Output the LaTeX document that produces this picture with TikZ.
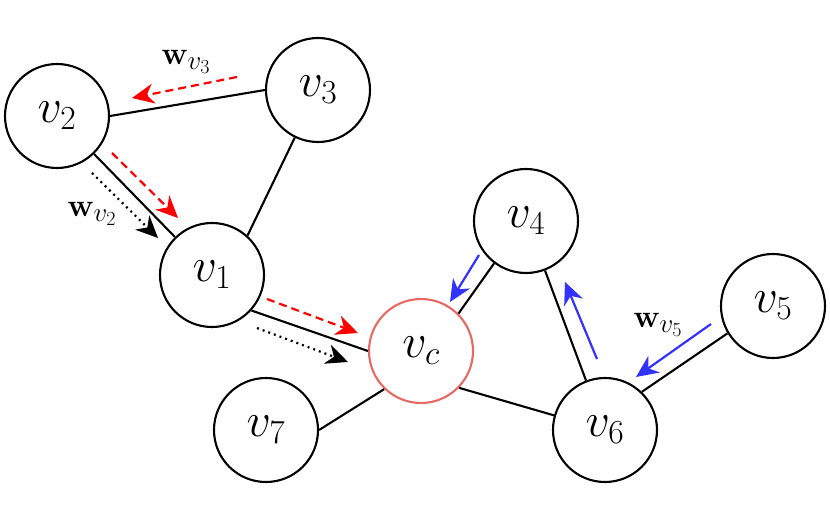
\RequirePackage{fix-cm}
\documentclass[tikz,border=0pt]{standalone}
\usetikzlibrary{arrows.meta}
\definecolor{cred}{RGB}{232,104,98}
\definecolor{cblue}{RGB}{50,50,255}
\DeclareMathSizes{32}{32}{27}{20}
\begin{document}
\begin{tikzpicture}[x=1pt,y=-1pt,
  vtx/.style={circle,draw=black,line width=2.1pt,minimum size=104pt,inner sep=0pt,font=\fontsize{48}{54}\selectfont},
  cvtx/.style={vtx,draw=cred},
  edge/.style={line width=2.1pt},
  tip/.style={-{Stealth[length=22pt,width=20pt,inset=7pt]}},
  redarr/.style={tip,red,line width=2.2pt,dash pattern=on 8pt off 5pt},
  blkarr/.style={tip,black,line width=2.2pt,dash pattern=on 2pt off 4pt},
  bluarr/.style={tip,cblue,line width=2.2pt},
  lbl/.style={font=\fontsize{32}{36}\selectfont}]
\useasboundingbox (0,0) rectangle (830,508);
\node[vtx] (v2) at (57,116) {$v_2$};
\node[vtx] (v3) at (318,90) {$v_3$};
\node[vtx] (v1) at (212,275) {$v_1$};
\node[vtx] (v4) at (526,221) {$v_4$};
\node[vtx] (v5) at (773,306) {$v_5$};
\node[cvtx] (vc) at (421,351) {$v_c$};
\node[vtx] (v7) at (266,430) {$v_7$};
\node[vtx] (v6) at (605,430) {$v_6$};
\draw[edge] (v2.0) -- (v3.180);
\draw[edge] (v3.-116) -- (v1.48);
\draw[edge] (v2) -- (v1);
\draw[edge] (v1.-42) -- (vc.180);
\draw[edge] (vc.45) -- (v4.-127);
\draw[edge] (vc.-134) -- (v7.0);
\draw[edge] (vc.-44) -- (v6.164);
\draw[edge] (v4.-69) -- (v6.111);
\draw[edge] (v6.46) -- (v5.-149);
\coordinate (a1s) at (237,77); \coordinate (a1e) at (132,98);
\coordinate (a2s) at (112,153); \coordinate (a2e) at (178,218);
\coordinate (a3s) at (92,173); \coordinate (a3e) at (158,238);
\coordinate (a4s) at (267,299); \coordinate (a4e) at (358,333);
\coordinate (a5s) at (257,328); \coordinate (a5e) at (348,362);
\coordinate (a6s) at (479,255); \coordinate (a6e) at (450,302);
\coordinate (a7s) at (597,359); \coordinate (a7e) at (565,282);
\coordinate (a8s) at (711,324); \coordinate (a8e) at (636,377);
\draw[redarr] (a1s) -- (a1e);
\draw[redarr] (a2s) -- (a2e);
\draw[blkarr] (a3s) -- (a3e);
\draw[redarr] (a4s) -- (a4e);
\draw[blkarr] (a5s) -- (a5e);
\draw[bluarr] (a6s) -- (a6e);
\draw[bluarr] (a7s) -- (a7e);
\draw[bluarr] (a8s) -- (a8e);
\node[lbl] (l3) at (186,62) {$\mathbf{w}_{v_3}$};
\node[lbl] (l2) at (92,214) {$\mathbf{w}_{v_2}$};
\node[lbl] (l5) at (658,325) {$\mathbf{w}_{v_5}$};
\end{tikzpicture}
\end{document}
